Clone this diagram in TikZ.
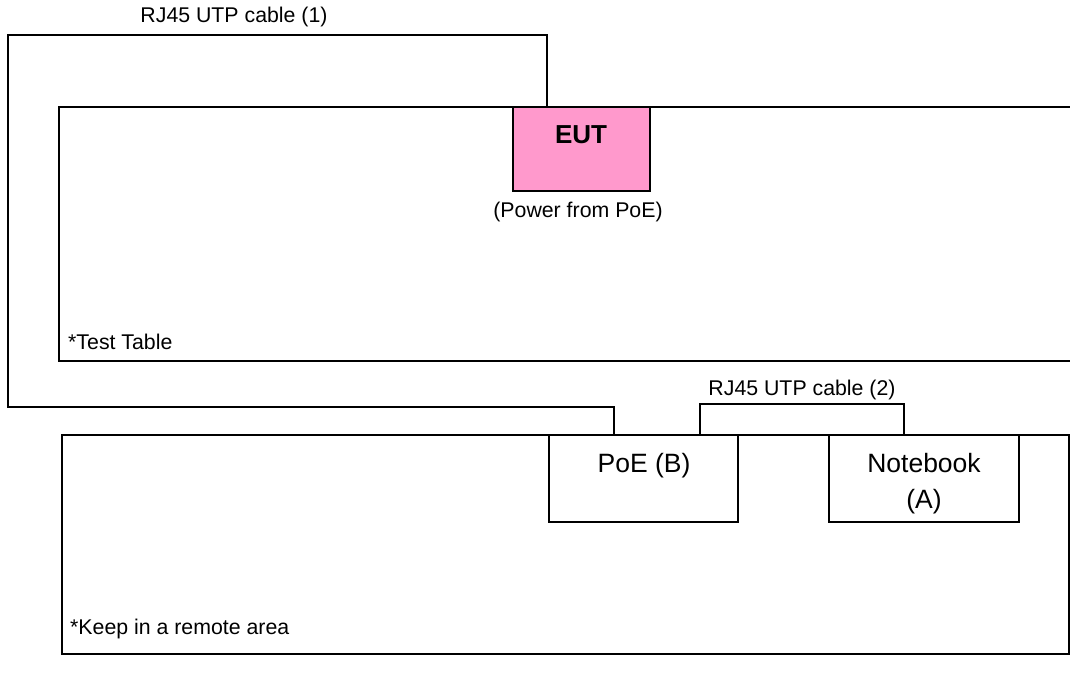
\documentclass[tikz,border=0pt]{standalone}
\usepackage{fontspec}
\setmainfont{Liberation Sans}
\definecolor{eutpink}{HTML}{FF99CC}
\begin{document}
\begin{tikzpicture}[x=1pt,y=-1pt,
  area/.style={draw, line width=1.1pt, anchor=north west, inner sep=0pt, outer sep=0pt},
  cable/.style={draw, line width=1.1pt},
  smalltext/.style={font=\fontsize{21.3}{25}\selectfont, inner sep=0pt},
  bigtext/.style={font=\fontsize{26.5}{32}\selectfont, inner sep=0pt, anchor=base}]
\useasboundingbox (0,0) rectangle (1070,684);
% areas
\node[area, minimum width=1013pt, minimum height=254pt] (table) at (59,107) {};
\node[area, minimum width=1007pt, minimum height=219pt] (remote) at (62,435) {};
% devices
\node[area, fill=eutpink, minimum width=137pt, minimum height=84pt] (eut) at (513,107) {};
\node[font=\fontsize{26}{30}\selectfont\bfseries, inner sep=0pt, anchor=base] (euttext) at (581,144) {EUT};
\node[smalltext, anchor=base] (power) at (578,217.5) {(Power from PoE)};
\node[area, fill=white, minimum width=189pt, minimum height=87pt] (poe) at (549,435) {};
\node[bigtext] (poetext) at (644,472) {PoE (B)};
\node[area, fill=white, minimum width=190pt, minimum height=87pt] (nb) at (829,435) {};
\node[bigtext] (nbtext) at (924,472) {Notebook};
\node[bigtext] (nbtextb) at (924,508) {(A)};
% labels
\node[smalltext, anchor=west] (tlabel) at (68,342) {*Test Table};
\node[smalltext, anchor=west] (rlabel) at (70,629) {*Keep in a remote area};
\node[smalltext] (c1label) at (234,17) {RJ45 UTP cable (1)};
\node[smalltext] (c2label) at (802,390) {RJ45 UTP cable (2)};
% cable 1
\coordinate (c1a) at (547,35);
\coordinate (c1b) at (8,35);
\coordinate (c1c) at (8,407);
\coordinate (c1d) at (614,407);
\draw[cable] (eut.north -| c1a) -- (c1a) -- (c1b) -- (c1c) -- (c1d) -- (c1d |- poe.north);
% cable 2
\coordinate (c2a) at (700,404);
\coordinate (c2b) at (904,404);
\draw[cable] (c2a |- poe.north) -- (c2a) -- (c2b) -- (c2b |- nb.north);
\end{tikzpicture}
\end{document}
